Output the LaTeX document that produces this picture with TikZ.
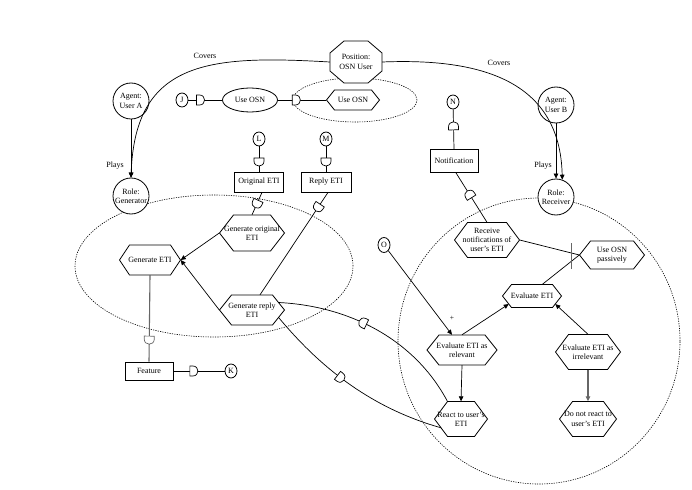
\documentclass[tikz,border=0pt]{standalone}
\usepackage{fontspec}
\setmainfont{Liberation Serif}
\usetikzlibrary{calc,arrows.meta,decorations.markings,shapes.geometric}
\newcommand\Dfwd{\draw[line width=0.7pt,fill=white] (-3pt,-5pt) -- (-3pt,5pt) -- (0pt,5pt) .. controls (6.7pt,5pt) and (6.7pt,-5pt) .. (0pt,-5pt) -- cycle;}
\newcommand\Dbwd{\draw[line width=0.7pt,fill=white] (3pt,-5pt) -- (3pt,5pt) -- (0pt,5pt) .. controls (-6.7pt,5pt) and (-6.7pt,-5pt) .. (0pt,-5pt) -- cycle;}
\tikzset{
  lbl/.style={font=\fontsize{8}{9.3}\selectfont, align=center},
  shapeline/.style={draw=black, line width=0.8pt},
  hexbox/.style={lbl, inner sep=0pt, draw=none},
  boxn/.style={lbl, draw, fill=white, line width=0.8pt, inner sep=0pt},
  circn/.style={lbl, draw, fill=white, circle, line width=0.8pt, minimum size=36pt, inner sep=0pt},
  smallc/.style={lbl, draw, fill=white, ellipse, line width=0.8pt, minimum width=12pt, minimum height=14pt, inner sep=0pt},
  conn/.style={line width=0.7pt},
  greyconn/.style={line width=1.1pt, draw=black!60},
  arr/.style={conn, -{Triangle[length=5pt,width=4.5pt]}},
  bnd/.style={line width=0.6pt, dash pattern=on 1.2pt off 1.2pt},
  dmark/.style={postaction={decorate,decoration={markings,mark=at position #1 with {\Dfwd}}}},
  dmarkr/.style={postaction={decorate,decoration={markings,mark=at position #1 with {\Dbwd}}}},
}
% name, x, y, width, height, slant, text
\newcommand\hexn[7]{%
  \pgfmathsetmacro\hw{#4/2}\pgfmathsetmacro\hh{#5/2}\pgfmathsetmacro\hs{#4/2-#6}%
  \coordinate (#1-c) at (#2,#3);
  \coordinate (#1-nw) at ($(#1-c)+(-\hs pt,\hh pt)$);
  \coordinate (#1-ne) at ($(#1-c)+(\hs pt,\hh pt)$);
  \coordinate (#1-sw) at ($(#1-c)+(-\hs pt,-\hh pt)$);
  \coordinate (#1-se) at ($(#1-c)+(\hs pt,-\hh pt)$);
  \draw[shapeline,fill=white] ($(#1-c)+(-\hw pt,0pt)$) -- (#1-nw) -- (#1-ne) -- ($(#1-c)+(\hw pt,0pt)$) -- (#1-se) -- (#1-sw) -- cycle;
  \node[hexbox, minimum width=#4pt, minimum height=#5pt] (#1) at (#1-c) {#7};
}
\begin{document}
\begin{tikzpicture}[x=1pt,y=-1pt]
\path[use as bounding box] (0,0) rectangle (692,489);

% boundaries
\draw[bnd] (214,266) ellipse [x radius=139pt, y radius=71pt];
\draw[bnd] (539,341) ellipse [x radius=141pt, y radius=143pt];
\draw[bnd] (355,100) ellipse [x radius=62pt, y radius=22pt];

% position octagon
\coordinate (pc) at (356,62);
\draw[shapeline,fill=white] ($(pc)+(-12pt,21pt)$) -- ($(pc)+(12pt,21pt)$) -- ($(pc)+(26pt,9pt)$) -- ($(pc)+(26pt,-9pt)$) -- ($(pc)+(12pt,-21pt)$) -- ($(pc)+(-12pt,-21pt)$) -- ($(pc)+(-26pt,-9pt)$) -- ($(pc)+(-26pt,9pt)$) -- cycle;
\node[hexbox, minimum width=52pt, minimum height=42pt] (pos) at (pc) {Position:\\OSN User};

% actors
\node[circn] (aa) at (131,101) {Agent:\\User A};
\node[circn] (ab) at (556,105) {Agent:\\User B};
\node[circn] (rg) at (131,196) {Role:\\Generator};
\node[circn] (rr) at (556,197) {Role:\\Receiver};

% small circles
\node[smallc] (J) at (182,100) {J};
\node[smallc] (K) at (231,371) {K};
\node[smallc] (L) at (259,139) {L};
\node[smallc] (M) at (326,139) {M};
\node[smallc] (N) at (453,102) {N};
\node[smallc, minimum height=15pt] (O) at (384,245) {O};

% goal ellipse
\node[lbl, draw, fill=white, ellipse, line width=0.8pt, minimum width=55pt, minimum height=24pt, inner sep=0pt] (uo1) at (250,100) {Use OSN};

% resources
\node[boxn, minimum width=49pt, minimum height=20pt] (oeti) at (259,182) {Original ETI};
\node[boxn, minimum width=50pt, minimum height=20pt] (reti) at (326,182) {Reply ETI};
\node[boxn, minimum width=48pt, minimum height=23pt] (notif) at (454,161) {Notification};
\node[boxn, minimum width=48pt, minimum height=18pt] (feat) at (149,371) {Feature};

% tasks
\hexn{uo2}{353}{100}{53}{20}{8}{Use OSN}
\hexn{ge}{150}{260}{61}{30}{10}{Generate ETI}
\hexn{gor}{252}{233}{65}{36}{14}{Generate original\\ETI}
\hexn{grr}{252}{310}{65}{30}{12}{Generate reply\\ETI}
\hexn{rn}{487}{240}{65}{35}{13}{Receive\\notifications of\\user's ETI}
\hexn{uop}{612}{255}{65}{28}{11}{Use OSN\\passively}
\hexn{ev}{532}{296}{59}{23}{9}{Evaluate ETI}
\hexn{evr}{462}{350}{70}{30}{12}{Evaluate ETI as\\relevant}
\hexn{evi}{588}{352}{65}{35}{13}{Evaluate ETI as\\irrelevant}
\hexn{react}{461}{419}{53}{35}{13}{React to user's\\ETI}
\hexn{dnr}{588}{419}{57}{35}{13}{Do not react to\\user's ETI}

% covers / plays
\draw[arr] (pos.west) .. controls (210,55) and (135,60) .. (rg.north);
\draw[arr] (pos.east) .. controls (480,58) and (560,80) .. (rr.70);
\draw[arr] (aa.south) -- (rg.north);
\draw[arr] (ab.south) -- (rr.north);
\node[lbl] (cov1) at (205,56) {Covers};
\node[lbl] (cov2) at (499,63) {Covers};
\node[lbl] (pl1) at (115,166) {Plays};
\node[lbl] (pl2) at (543,166) {Plays};

% dependencies
\draw[conn, dmark=0.33] (J) -- (uo1);
\draw[conn, dmark=0.36] (uo1) -- (uo2.west);
\draw[conn, dmark=0.58] (L) -- (oeti.north);
\draw[conn, dmark=0.58] (M) -- (reti.north);
\draw[conn, dmark=0.48] ($(oeti.south)+(3pt,0pt)$) -- (gor.north);
\draw[conn, dmark=0.14] ($(reti.south)+(2pt,0pt)$) -- ($(grr.north)+(8pt,0pt)$);
\draw[greyconn, dmark=0.74] (ge.south) -- (feat.north);
\draw[conn, dmark=0.38] (feat.east) -- (K);
\draw[conn, dmark=0.56] (notif.north) -- (N);
\draw[conn, dmark=0.55] (rn.north) -- ($(notif.south)+(2pt,0pt)$);
\draw[conn, dmarkr=0.43] ($(grr-ne)!0.5!(grr.east)$) .. controls (350,306) and (415,340) .. (react-nw);
\draw[conn, dmark=0.43] ($(grr-se)!0.5!(grr.east)$) .. controls (310,355) and (360,405) .. ($(react.west)!0.5!(react-sw)$);

% means-end / decomposition
\draw[arr] (gor.west) -- (ge.east);
\draw[arr] (grr.west) -- (ge.east);
\draw[conn] (rn.east) -- (uop.west);
\draw[conn] ($(ev-ne)!0.5!(ev.north)$) -- (uop.west);
\draw[line width=1.5pt, draw=black!60] ($(uop.west)+(-8pt,12pt)$) -- ($(uop.west)+(-8pt,-14pt)$);
\draw[arr] (O) -- ($(evr.north)+(-10pt,0pt)$);
\node[lbl, font=\fontsize{7.5}{8}\selectfont] (plus) at (452,318) {+};
\draw[arr] (evr.north) -- ($(ev.west)!0.7!(ev-sw)$);
\draw[arr] (evi.north) -- ($(ev.east)!0.7!(ev-se)$);
\draw[arr] (evr.south) -- (react.north);
\draw[arr, draw=black!60, line width=1.1pt] (evi.south) -- (dnr.north);
\end{tikzpicture}
\end{document}
